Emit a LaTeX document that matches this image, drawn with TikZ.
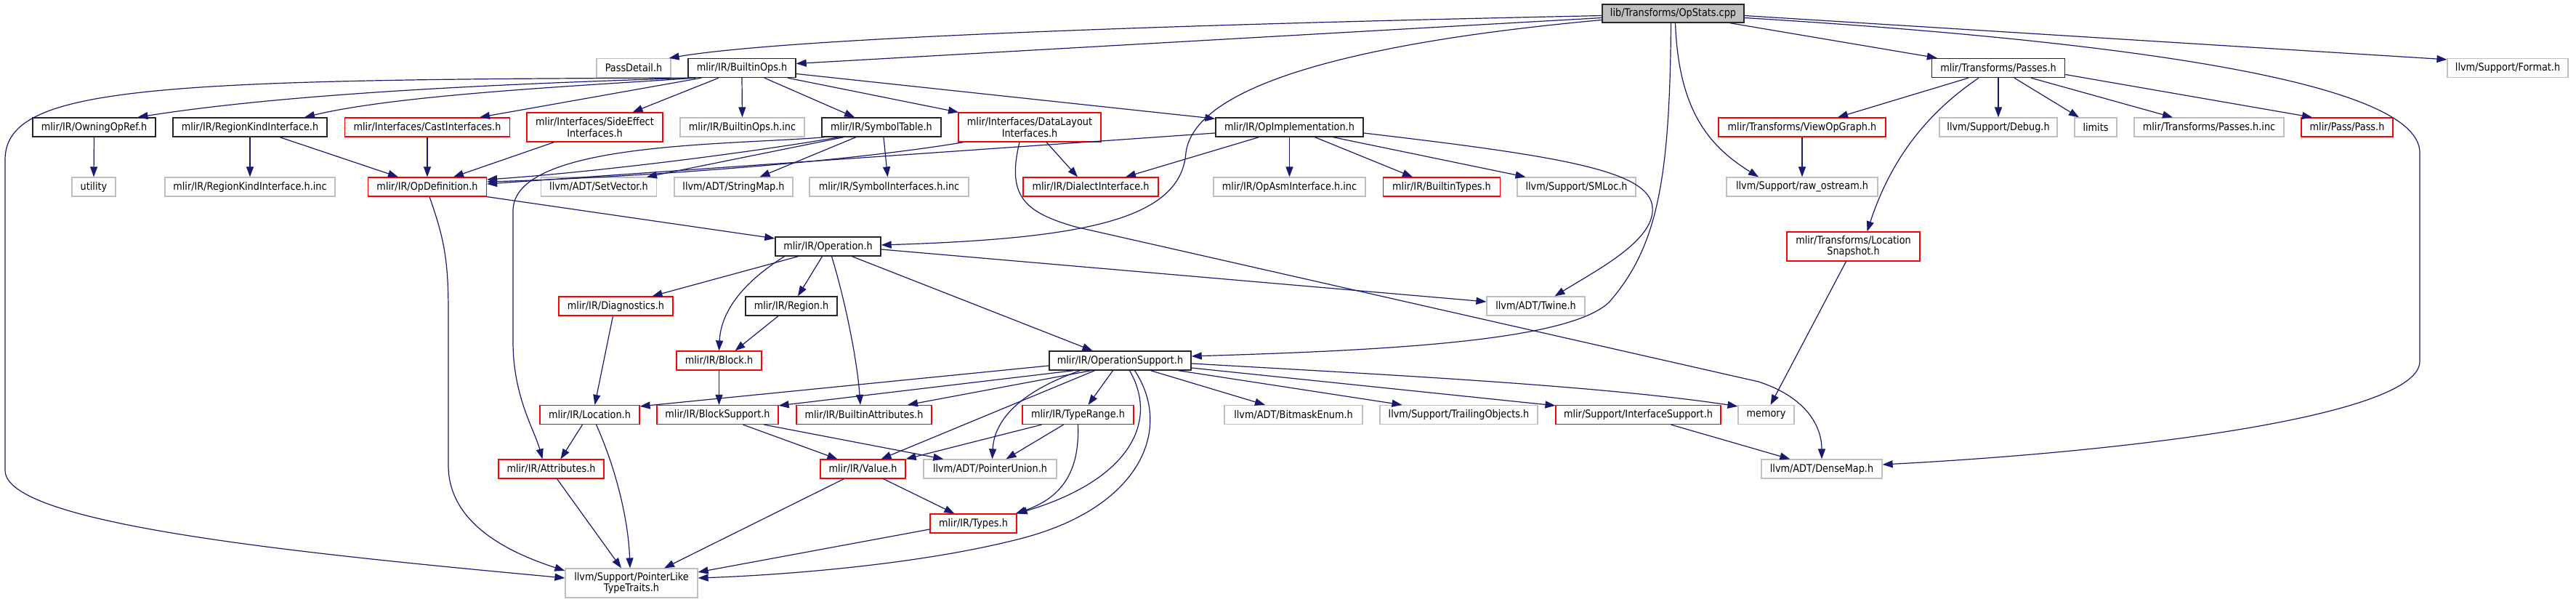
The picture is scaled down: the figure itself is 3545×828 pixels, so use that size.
\documentclass[tikz,border=0pt]{standalone}
\usepackage{fontspec}
\setmainfont{DejaVu Sans}[FakeStretch=0.88]
\usetikzlibrary{calc,arrows.meta}
\definecolor{edgecol}{HTML}{191970}
\definecolor{grayline}{HTML}{BFBFBF}
\definecolor{rootfill}{HTML}{BFBFBF}
\definecolor{redline}{HTML}{FF0000}
\tikzset{
  nbox/.style={rectangle, inner sep=0pt, minimum height=13pt, align=center,
    font=\fontsize{7.3}{7.6}\selectfont, fill=white},
  gry/.style={nbox, draw=grayline, line width=0.6pt},
  blk/.style={nbox, draw=black!85, line width=0.7pt},
  rd/.style={nbox, draw=redline, line width=0.6pt},
  two/.style={minimum height=20pt},
  dep/.style={draw=edgecol, line width=0.6pt, -{Triangle[length=7pt,width=5pt]}}
}
\begin{document}
\begin{tikzpicture}[x=0.5pt,y=-0.5pt]
\useasboundingbox (0,0) rectangle (3545,828);
% nodes
\node[blk, fill=rootfill, minimum width=97.5pt, minimum height=12.5pt] (root) at (2302.5,18.5) {lib/Transforms/OpStats.cpp};
\node[gry, minimum width=51pt] (passdetail) at (872,93.5) {PassDetail.h};
\node[blk, minimum width=74pt] (builtinops) at (1021,93.5) {mlir/IR/BuiltinOps.h};
\node[blk, minimum width=91.5pt] (passes) at (2750,93.5) {mlir/Transforms/Passes.h};
\node[gry, minimum width=83pt] (format) at (3451,93.5) {llvm/Support/Format.h};
\node[blk, minimum width=84.5pt] (owning) at (129.5,175) {mlir/IR/OwningOpRef.h};
\node[blk, minimum width=106pt] (regionkind) at (344,175) {mlir/IR/RegionKindInterface.h};
\node[rd, minimum width=113.5pt] (cast) at (588,175) {mlir/Interfaces/CastInterfaces.h};
\node[rd, two, minimum width=93.5pt] (sideeffect) at (818.5,175) {mlir/Interfaces/SideEffect\\Interfaces.h};
\node[gry, minimum width=85.5pt] (builtinopsinc) at (1021.5,175) {mlir/IR/BuiltinOps.h.inc};
\node[blk, minimum width=82pt] (symboltable) at (1213,175) {mlir/IR/SymbolTable.h};
\node[rd, two, minimum width=98pt] (datalayout) at (1417,175) {mlir/Interfaces/DataLayout\\Interfaces.h};
\node[blk, minimum width=101.5pt] (opimpl) at (1774.5,175) {mlir/IR/OpImplementation.h};
\node[rd, minimum width=115pt] (viewopgraph) at (2480,175) {mlir/Transforms/ViewOpGraph.h};
\node[gry, minimum width=81pt] (debug) at (2750,175) {llvm/Support/Debug.h};
\node[gry, minimum width=29pt] (limits) at (2884,175) {limits};
\node[gry, minimum width=103pt] (passesinc) at (3040,175) {mlir/Transforms/Passes.h.inc};
\node[rd, minimum width=63pt] (pass) at (3230,175) {mlir/Pass/Pass.h};
\node[gry, minimum width=30pt] (utility) at (129,257) {utility};
\node[gry, minimum width=117pt] (regionkindinc) at (344,257) {mlir/IR/RegionKindInterface.h.inc};
\node[rd, minimum width=81.5pt] (opdef) at (588,257) {mlir/IR/OpDefinition.h};
\node[gry, minimum width=79.5pt] (setvector) at (824,257) {llvm/ADT/SetVector.h};
\node[gry, minimum width=81.5pt] (stringmap) at (1009.5,257) {llvm/ADT/StringMap.h};
\node[gry, minimum width=109.5pt] (symifinc) at (1223.5,257) {mlir/IR/SymbolInterfaces.h.inc};
\node[rd, minimum width=93pt] (dialectif) at (1501,257) {mlir/IR/DialectInterface.h};
\node[gry, minimum width=104.5pt] (opasminc) at (1774.5,257) {mlir/IR/OpAsmInterface.h.inc};
\node[rd, minimum width=80.5pt] (builtintypes) at (1984,257) {mlir/IR/BuiltinTypes.h};
\node[gry, minimum width=81.5pt] (smloc) at (2169.5,257) {llvm/Support/SMLoc.h};
\node[gry, minimum width=104pt] (rawostream) at (2480,257) {llvm/Support/raw\_ostream.h};
\node[blk, minimum width=72.5pt] (operation) at (1139.5,339) {mlir/IR/Operation.h};
\node[rd, two, minimum width=91.5pt] (locsnap) at (2550.5,339) {mlir/Transforms/Location\\Snapshot.h};
\node[rd, minimum width=78.5pt] (diagnostics) at (847.5,421) {mlir/IR/Diagnostics.h};
\node[blk, minimum width=63pt] (region) at (1089,421) {mlir/IR/Region.h};
\node[gry, minimum width=67.5pt] (twine) at (2113.5,421) {llvm/ADT/Twine.h};
\node[rd, minimum width=58.5pt] (block) at (989.5,496) {mlir/IR/Block.h};
\node[blk, minimum width=97.5pt] (opsupport) at (1541.5,496) {mlir/IR/OperationSupport.h};
\node[rd, minimum width=68.5pt] (location) at (811.5,570.5) {mlir/IR/Location.h};
\node[rd, minimum width=83.5pt] (blocksupport) at (987.5,570.5) {mlir/IR/BlockSupport.h};
\node[rd, minimum width=93pt] (builtinattr) at (1189,570.5) {mlir/IR/BuiltinAttributes.h};
\node[rd, minimum width=76.5pt] (typerange) at (1483.5,570.5) {mlir/IR/TypeRange.h};
\node[gry, minimum width=95pt] (bitmask) at (1780,570.5) {llvm/ADT/BitmaskEnum.h};
\node[gry, minimum width=108.5pt] (trailing) at (2007.5,570.5) {llvm/Support/TrailingObjects.h};
\node[rd, minimum width=113.5pt] (ifsupport) at (2254.5,570.5) {mlir/Support/InterfaceSupport.h};
\node[gry, minimum width=38.5pt] (memory) at (2430.5,570.5) {memory};
\node[rd, minimum width=72.5pt] (attributes) at (758.5,645) {mlir/IR/Attributes.h};
\node[rd, minimum width=58.5pt] (value) at (1187.5,645) {mlir/IR/Value.h};
\node[gry, minimum width=91.5pt] (ptrunion) at (1362.5,645) {llvm/ADT/PointerUnion.h};
\node[gry, minimum width=83pt] (densemap) at (2507,645) {llvm/ADT/DenseMap.h};
\node[rd, minimum width=59.5pt] (types) at (1339.5,720) {mlir/IR/Types.h};
\node[gry, two, minimum width=91pt] (ptrlike) at (869,802) {llvm/Support/PointerLike\\TypeTraits.h};

% edges from root
\draw[dep] ($(root.west)+(0,3)$) .. controls (1700,32) and (1100,50) .. ($(passdetail.north east)+(-3,0)$);
\draw[dep] ($(root.west)+(0,6)$) -- ($(builtinops.east)+(0,-6)$);
\draw[dep] ($(root.west)+(0,9)$) .. controls (1900,55) and (1645,110) .. (1632,210) .. controls (1625,300) and (1500,328) .. ($(operation.east)+(0,-2)$);
\draw[dep] ($(root.south)+(-3,0)$) .. controls (2298,250) and (2280,340) .. (2215,415) .. controls (2160,470) and (1900,482) .. ($(opsupport.east)+(0,-6)$);
\draw[dep] ($(root.south)+(3,0)$) .. controls (2310,150) and (2350,200) .. ($(rawostream.north)+(-60,0)$);
\draw[dep] ($(root.south east)+(-20,0)$) -- ($(passes.north west)+(8,0)$);
\draw[dep] ($(root.east)+(0,3)$) -- ($(format.north west)+(0,2)$);
\draw[dep] ($(root.east)+(0,6)$) .. controls (2900,55) and (3330,110) .. (3330,210) -- (3330,497) .. controls (3330,570) and (2950,620) .. ($(densemap.east)+(0,-6)$);

% BuiltinOps
\draw[dep] ($(builtinops.south west)+(2,0)$) .. controls (200,109) and (7,120) .. (7,220) -- (7,647) .. controls (7,720) and (400,760) .. ($(ptrlike.west)+(0,-7)$);
\draw[dep] ($(builtinops.south west)+(6,0)$) .. controls (700,115) and (400,128) .. ($(owning.north)+(60,0)$);
\draw[dep] ($(builtinops.south west)+(11,0)$) .. controls (800,118) and (550,130) .. ($(regionkind.north)+(75,0)$);
\draw[dep] ($(builtinops.south west)+(19,0)$) -- ($(cast.north)+(72,0)$);
\draw[dep] ($(builtinops.south)+(-32,0)$) -- ($(sideeffect.north)+(52,0)$);
\draw[dep] (builtinops.south) -- (builtinopsinc.north);
\draw[dep] ($(builtinops.south)+(31,0)$) -- ($(symboltable.north)+(-37,0)$);
\draw[dep] ($(builtinops.south)+(63,0)$) -- ($(datalayout.north)+(-98,0)$);
\draw[dep] ($(builtinops.east)+(0,8)$) -- ($(opimpl.north west)+(0,2)$);

% second row
\draw[dep] (owning.south) -- (utility.north);
\draw[dep] (regionkind.south) -- (regionkindinc.north);
\draw[dep] ($(regionkind.south)+(41,0)$) -- ($(opdef.north)+(-40,0)$);
\draw[dep] (cast.south) -- (opdef.north);
\draw[dep] ($(sideeffect.south)+(-56,0)$) -- ($(opdef.north)+(36,0)$);

\draw[dep] ($(symboltable.south)+(-58,0)$) .. controls (1000,215) and (800,238) .. ($(opdef.east)+(0,-10)$);
\draw[dep] ($(datalayout.south west)+(8,0)$) .. controls (1150,225) and (850,245) .. ($(opdef.east)+(0,-7)$);
\draw[dep] ($(opimpl.west)+(0,8)$) -- ($(opdef.east)+(0,-4)$);
\draw[dep] ($(symboltable.south)+(-78,0)$) .. controls (1000,200) and (706,195) .. (706,290) -- (706,470) .. controls (706,545) and (735,590) .. ($(attributes.north)+(-12,0)$);
\draw[dep] ($(symboltable.south)+(-52,0)$) -- ($(setvector.north)+(66,0)$);
\draw[dep] ($(symboltable.south)+(-35,0)$) -- ($(stringmap.north)+(36,0)$);
\draw[dep] ($(symboltable.south)+(3,0)$) -- ($(symifinc.north)+(-2,0)$);

\draw[dep] ($(datalayout.south)+(23,0)$) -- ($(dialectif.north)+(-18,0)$);
\draw[dep] ($(datalayout.south)+(-14,0)$) .. controls (1385,270) and (1410,292) .. (1480,312) -- (2420,525) .. controls (2490,548) and (2507,590) .. (densemap.north);

\draw[dep] ($(opimpl.south)+(-42,0)$) -- ($(dialectif.north)+(48,0)$);
\draw[dep] (opimpl.south) -- (opasminc.north);
\draw[dep] ($(opimpl.south)+(35,0)$) -- ($(builtintypes.north)+(-40,0)$);
\draw[dep] ($(opimpl.south)+(60,0)$) -- ($(smloc.north)+(-70,0)$);
\draw[dep] ($(opimpl.east)+(0,8)$) .. controls (2150,215) and (2270,235) .. (2274,285) .. controls (2278,330) and (2200,370) .. ($(twine.north)+(26,0)$);

% OpDefinition
\draw[dep] (opdef.south east) -- ($(operation.west)+(0,-11)$);
\draw[dep] ($(opdef.south)+(3,0)$) .. controls (612,330) and (617,360) .. (617,430) -- (617,640) .. controls (617,720) and (700,760) .. ($(ptrlike.west)+(0,-17)$);

% Operation
\draw[dep] ($(operation.south)+(-41,0)$) -- ($(diagnostics.north)+(50,0)$);
\draw[dep] ($(operation.south)+(-60,0)$) .. controls (1020,390) and (992,430) .. (block.north);
\draw[dep] ($(operation.south)+(-8,0)$) -- ($(region.north)+(9,0)$);
\draw[dep] ($(operation.south)+(5,0)$) .. controls (1165,420) and (1180,500) .. ($(builtinattr.north)+(-5,0)$);
\draw[dep] ($(operation.south)+(33,0)$) -- ($(opsupport.north)+(-38,0)$);
\draw[dep] ($(operation.east)+(0,4)$) -- ($(twine.west)+(0,-6)$);

\draw[dep] ($(region.south)+(-18,0)$) -- ($(block.north)+(22,0)$);
\draw[dep] (block.south) -- ($(blocksupport.north)+(2,0)$);
\draw[dep] ($(diagnostics.south)+(-4,0)$) -- ($(location.north)+(7,0)$);
\draw[dep] ($(location.south)+(-10,0)$) -- ($(attributes.north)+(13,0)$);
\draw[dep] ($(location.south)+(9,0)$) .. controls (850,650) and (865,720) .. ($(ptrlike.north)+(-2,0)$);
\draw[dep] ($(attributes.south)+(8,0)$) -- ($(ptrlike.north)+(-14,0)$);

% OperationSupport
\draw[dep] ($(opsupport.west)+(0,7)$) -- ($(location.north east)+(0,2)$);
\draw[dep] ($(opsupport.south)+(-64,0)$) -- ($(blocksupport.north east)+(0,1)$);
\draw[dep] ($(opsupport.south)+(-40,0)$) -- ($(builtinattr.north)+(60,0)$);
\draw[dep] ($(opsupport.south)+(-35,0)$) -- ($(value.north)+(25,0)$);
\draw[dep] ($(opsupport.south)+(-55,0)$) .. controls (1400,540) and (1368,580) .. ($(ptrunion.north)+(3,0)$);
\draw[dep] ($(opsupport.south)+(-10,0)$) -- ($(typerange.north)+(14,0)$);
\draw[dep] ($(opsupport.south)+(13,0)$) .. controls (1595,580) and (1555,660) .. (types.north east);
\draw[dep] ($(opsupport.south)+(20,0)$) .. controls (1615,590) and (1570,700) .. (1400,742) .. controls (1250,780) and (1050,792) .. ($(ptrlike.east)+(0,-7)$);
\draw[dep] ($(opsupport.south)+(42,0)$) -- ($(bitmask.north)+(-39,0)$);
\draw[dep] ($(opsupport.south east)+(-18,0)$) -- ($(trailing.north)+(-78,0)$);
\draw[dep] ($(opsupport.east)+(0,10)$) -- ($(ifsupport.north west)+(0,1)$);
\draw[dep] ($(opsupport.east)+(0,4)$) .. controls (1900,515) and (2200,530) .. ($(memory.north west)+(0,2)$);

% TypeRange, BlockSupport, Value, Types
\draw[dep] ($(typerange.south)+(-50,0)$) -- (value.north east);
\draw[dep] ($(typerange.south)+(-20,0)$) -- ($(ptrunion.north)+(22,0)$);
\draw[dep] (typerange.south) .. controls (1486,650) and (1460,685) .. ($(types.north east)+(-2,0)$);
\draw[dep] ($(blocksupport.south)+(35,0)$) -- ($(value.north)+(-35,0)$);
\draw[dep] ($(blocksupport.south)+(64,0)$) -- ($(ptrunion.north west)+(28,0)$);
\draw[dep] ($(value.south)+(-26,0)$) -- ($(ptrlike.north)+(45,0)$);
\draw[dep] ($(value.south)+(28,0)$) -- ($(types.north)+(-26,0)$);
\draw[dep] ($(types.west)+(0,8)$) -- ($(ptrlike.east)+(0,-15)$);
\draw[dep] ($(ifsupport.south)+(45,0)$) -- ($(densemap.north west)+(40,0)$);
\draw[dep] ($(locsnap.south)+(-10,0)$) -- ($(memory.north)+(6,0)$);

% Passes
\draw[dep] ($(passes.south)+(-41,0)$) -- ($(viewopgraph.north)+(49,0)$);
\draw[dep] ($(passes.south)+(-27,0)$) .. controls (2660,150) and (2605,210) .. ($(locsnap.north)+(19,0)$);
\draw[dep] (passes.south) -- (debug.north);
\draw[dep] ($(passes.south)+(22,0)$) -- ($(limits.north)+(-23,0)$);
\draw[dep] ($(passes.south)+(45,0)$) -- ($(passesinc.north)+(-50,0)$);
\draw[dep] ($(passes.east)+(0,9)$) -- ($(pass.north)+(-48,0)$);
\draw[dep] (viewopgraph.south) -- (rawostream.north);
\end{tikzpicture}
\end{document}
